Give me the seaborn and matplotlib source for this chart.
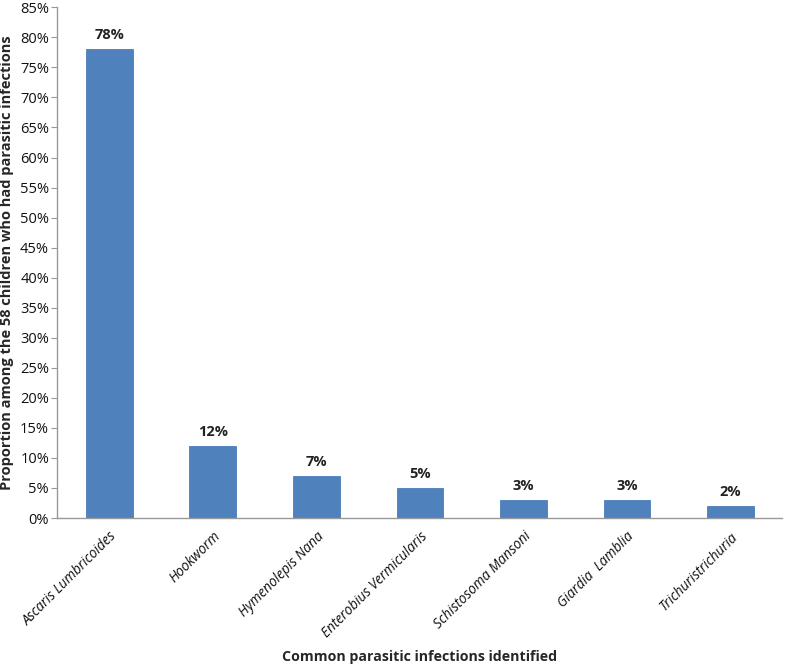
import matplotlib
matplotlib.use("Agg")
import matplotlib.pyplot as plt
import seaborn as sns
import pandas as pd
from matplotlib.ticker import FuncFormatter, MultipleLocator

# ── data ─────────────────────────────────────────────────────────────────────
PARASITES = [
    "Ascaris Lumbricoides",
    "Hookworm",
    "Hymenolepis Nana",
    "Enterobius Vermicularis",
    "Schistosoma Mansoni",
    "Giardia  Lamblia",
    "Trichuristrichuria",
]
PROPORTION = [78, 12, 7, 5, 3, 3, 2]

df = pd.DataFrame({"parasite": PARASITES, "pct": PROPORTION})

sns.set_theme(style="white")
plt.rcParams["font.family"] = ["Open Sans", "DejaVu Sans"]

fig = plt.figure(figsize=(7.87, 6.65), dpi=100)
ax = fig.add_axes([0.073, 0.221, 0.921, 0.768])

sns.barplot(data=df, x="parasite", y="pct", color="#4F81BD", width=0.45,
            saturation=1, ax=ax, edgecolor="#4A7EBB", linewidth=0.6)

for i, v in enumerate(PROPORTION):
    ax.text(i, v + 1.2, f"{v}%", ha="center", va="bottom", fontsize=10.5,
            fontweight="bold", color="#222222")

ax.set_ylim(0, 85)
ax.set_xlim(-0.5, len(PARASITES) - 0.5)
ax.yaxis.set_major_locator(MultipleLocator(5))
ax.yaxis.set_major_formatter(FuncFormatter(lambda v, p: f"{int(round(v))}%"))
ax.tick_params(axis="y", labelsize=10.5, length=4, width=0.8, color="#999999",
               direction="out", left=True, pad=2, labelcolor="#111111")
ax.tick_params(axis="x", length=0, pad=8, labelcolor="#111111")
for lbl in ax.get_xticklabels():
    lbl.set_rotation(45)
    lbl.set_ha("right")
    lbl.set_rotation_mode("anchor")
    lbl.set_fontstyle("italic")
    lbl.set_fontsize(9.8)

for s in ["top", "right"]:
    ax.spines[s].set_visible(False)
for s in ["left", "bottom"]:
    ax.spines[s].set_color("#999999")
    ax.spines[s].set_linewidth(1)

ax.set_xlabel("Common parasitic infections identified", fontsize=10.2,
              fontweight="bold", va="center")
ax.xaxis.set_label_coords(0.5, -0.272)
ax.set_ylabel("Proportion among the 58 children who had parasitic infections",
              fontsize=10.5, fontweight="bold", labelpad=4)

fig.savefig("out.png", dpi=100)
